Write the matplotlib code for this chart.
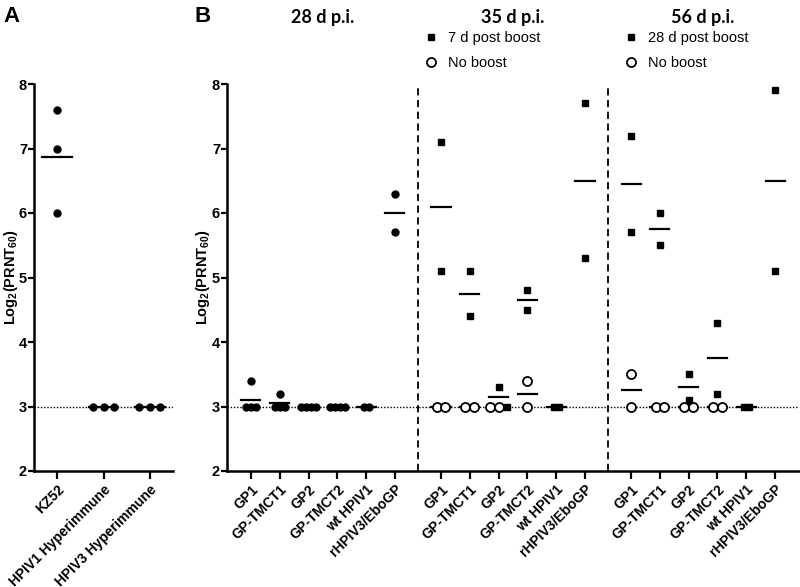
import numpy as np
import matplotlib
matplotlib.use("Agg")
from matplotlib import pyplot as plt
from matplotlib.lines import Line2D

plt.rcParams['font.family'] = ['Liberation Sans', 'DejaVu Sans']
plt.rcParams['mathtext.fontset'] = 'custom'
plt.rcParams['mathtext.bf'] = 'Liberation Sans:bold'
plt.rcParams['mathtext.rm'] = 'Liberation Sans:bold'

# panel A
a_categories = ['KZ52', 'HPIV1 Hyperimmune', 'HPIV3 Hyperimmune']
a_values = [[7.6, 7.0, 6.0], [3, 3, 3], [3, 3, 3]]

# panel B
b_categories = ['GP1', 'GP-TMCT1', 'GP2', 'GP-TMCT2', 'wt HPIV1', 'rHPIV3/EboGP']
b_titles = ['28 d p.i.', '35 d p.i.', '56 d p.i.']
d28 = [[3.4, 3, 3, 3], [3.2, 3, 3, 3], [3, 3, 3, 3], [3, 3, 3, 3], [3, 3], [6.3, 5.7]]
d35_boost = [[7.1, 5.1], [5.1, 4.4], [3.3, 3.0], [4.8, 4.5], [3, 3], [7.7, 5.3]]
d35_noboost = [[3, 3], [3, 3], [3, 3], [3.4, 3.0], [], []]
d56_boost = [[7.2, 5.7], [6.0, 5.5], [3.5, 3.1], [4.3, 3.2], [3, 3], [7.9, 5.1]]
d56_noboost = [[3.5, 3.0], [3, 3], [3, 3], [3, 3], [], []]
legend_35 = ['7 d post boost', 'No boost']
legend_56 = ['28 d post boost', 'No boost']

LBL = 'Log$_\\mathbf{2}$(PRNT$_\\mathbf{60}$)'


def offsets(vals, step):
    # spread tied values side by side like a column scatter
    out = np.zeros(len(vals))
    vals = list(vals)
    for v in set(vals):
        idx = [i for i, x in enumerate(vals) if x == v]
        n = len(idx)
        for k, i in enumerate(idx):
            out[i] = (k - (n - 1) / 2) * step
    return out


def style_axis(ax, lx):
    for s in ['top', 'right']:
        ax.spines[s].set_visible(False)
    for s in ['left', 'bottom']:
        ax.spines[s].set_linewidth(1.8)
    ax.set_ylim(2, 8)
    ax.set_yticks(range(2, 9))
    ax.tick_params(axis='y', length=4, width=1.6, labelsize=10.5, pad=1)
    ax.tick_params(axis='x', length=6, width=1.6, labelsize=10, pad=2)
    for t in ax.get_yticklabels():
        t.set_fontweight('bold')
    ax.axhline(3, color='black', lw=1.0, ls=(0, (1, 1.3)), zorder=1)
    ax.set_ylabel(LBL, fontsize=10.5, fontweight='bold')
    ax.yaxis.set_label_coords(lx, 0.5)


def mean_line(ax, x, vals, half):
    if len(vals):
        ax.plot([x - half, x + half], [np.mean(vals)] * 2, color='black', lw=1.6, zorder=2)


fig = plt.figure(figsize=(8, 5.87), dpi=100)

# ---- panel A
axA = fig.add_axes([34 / 800, 1 - 471 / 587, 139 / 800, 387 / 587])
style_axis(axA, (20 - 34) / 139)
axA.set_xlim(0.5, 3.5)
for i, vals in enumerate(a_values):
    x = i + 1
    axA.plot(x + offsets(vals, 0.23), vals, 'o', color='black', ms=5, zorder=3)
    mean_line(axA, x, vals, 0.32)
axA.set_xticks([1, 2, 3])
axA.set_xticklabels(a_categories, rotation=45, ha='right', rotation_mode='anchor',
                    fontweight='bold')

# ---- panel B
axB = fig.add_axes([227 / 800, 1 - 471 / 587, 572 / 800, 387 / 587])
style_axis(axB, (212 - 227) / 572)
axB.set_xlim(0.17, 20.03)
gap = 6.6
pos = []
labels = []
for g in range(3):
    for i in range(6):
        pos.append(1 + g * gap + i)
        labels.append(b_categories[i])

for i, vals in enumerate(d28):
    x = 1 + i
    axB.plot(x + offsets(vals, 0.17), vals, 'o', color='black', ms=5, zorder=3)
    mean_line(axB, x, vals, 0.33)

for g, (boost, noboost) in enumerate([(d35_boost, d35_noboost), (d56_boost, d56_noboost)]):
    for i in range(6):
        x = 1 + (g + 1) * gap + i
        sq = boost[i]
        ci = noboost[i]
        allv = list(ci) + list(sq)
        off = offsets(allv, 0.3 if len(ci) else 0.17)
        if len(ci):
            axB.plot(x + off[:len(ci)], ci, 'o', mfc='white', mec='black', mew=1.3,
                     ms=6.5, zorder=3)
        axB.plot(x + off[len(ci):], sq, 's', color='black', ms=4.6, zorder=4)
        mean_line(axB, x, sq, 0.33)
        mean_line(axB, x, ci, 0.33)

for xd in [1 + 5 + (gap - 5) / 2, 1 + gap + 5 + (gap - 5) / 2]:
    axB.axvline(xd, color='black', lw=1.3, ls=(0, (4, 2.5)), zorder=1)

axB.set_xticks(pos)
axB.set_xticklabels(labels, rotation=45, ha='right', rotation_mode='anchor',
                    fontweight='bold')

# titles and panel letters
fig.text(3 / 800, 1 - 17 / 587, 'A', fontsize=16, fontweight='bold', va='center')
fig.text(195 / 800, 1 - 17 / 587, 'B', fontsize=16, fontweight='bold', va='center')
for g, t in enumerate(b_titles):
    xc = 227 + (1 + g * gap + 2.5 - 0.17) * 572 / (20.03 - 0.17)
    fig.text(xc / 800, 1 - 17 / 587, t, fontsize=13, fontweight='bold',
             family=['Lato', 'DejaVu Sans'], ha='center', va='center')

handles = [Line2D([], [], ls='none', marker='s', color='black', ms=4.6),
           Line2D([], [], ls='none', marker='o', mfc='white', mec='black', mew=1.3, ms=6.5)]
for labs, xl in [(legend_35, 422), (legend_56, 622)]:
    fig.legend(handles, labs, loc='upper left', bbox_to_anchor=(xl / 800, 1 - 31 / 587),
               frameon=False, fontsize=10.5, labelspacing=0.75, handlelength=1.2,
               handletextpad=0.6, borderpad=0, borderaxespad=0)

fig.savefig('out.png', dpi=100)
